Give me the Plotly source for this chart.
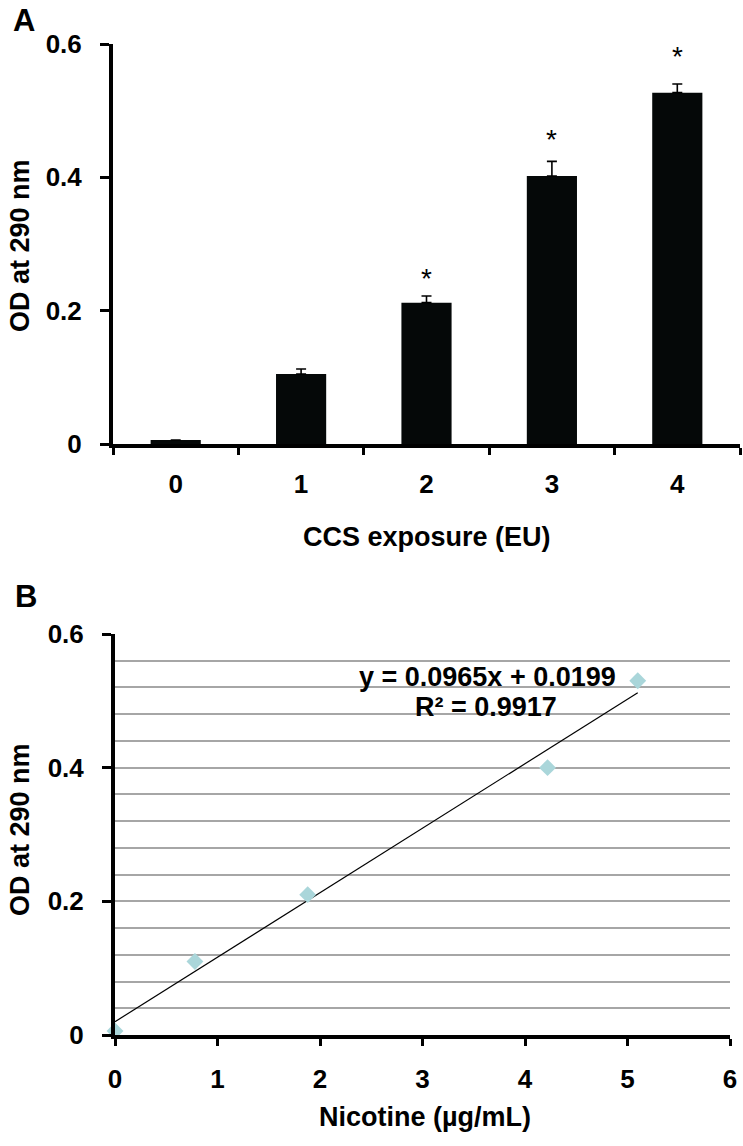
import plotly.graph_objects as go

W, H = 743, 1146

# Panel A data
exposure = ["0", "1", "2", "3", "4"]
od_mean = [0.006, 0.105, 0.212, 0.402, 0.527]
od_err = [0.0, 0.0075, 0.010, 0.022, 0.013]
star_y = [None, None, 0.2565, 0.4657, 0.5895]   # asterisk heights (significance marks)

# Panel B data
nicotine = [0.0, 0.78, 1.88, 4.22, 5.10]
od_b = [0.006, 0.11, 0.21, 0.40, 0.53]
slope, intercept = 0.0965, 0.0199
r2 = 0.9917
fit_x = [0.0, 5.10]

FONT = "Arial, Liberation Sans"


def px_x(p):
    return p / W


def px_y(p):
    return 1 - p / H


fig = go.Figure()

fig.add_trace(go.Bar(
    x=exposure, y=od_mean, width=0.4,
    marker=dict(color="#050808", line=dict(width=0)),
    error_y=dict(type="data", array=od_err, arrayminus=[0] * len(od_err),
                 symmetric=False, color="black", thickness=1.6, width=5),
    xaxis="x", yaxis="y", showlegend=False,
))

fig.add_trace(go.Scatter(
    x=fit_x, y=[slope * v + intercept for v in fit_x], mode="lines",
    line=dict(color="black", width=1.2), xaxis="x2", yaxis="y2", showlegend=False,
))
fig.add_trace(go.Scatter(
    x=nicotine, y=od_b, mode="markers",
    marker=dict(symbol="diamond", size=13, color="#AAD6DA", line=dict(width=0)),
    xaxis="x2", yaxis="y2", showlegend=False, cliponaxis=False,
))

tickfont = dict(family=FONT, size=26, color="black", weight="bold")

fig.update_layout(
    width=W, height=H, margin=dict(l=0, r=0, t=0, b=0),
    paper_bgcolor="white", plot_bgcolor="white",
    font=dict(family=FONT, color="black"),
    xaxis=dict(domain=[px_x(113), px_x(740)], anchor="y", type="category",
               automargin=False,
               showline=True, linecolor="black", linewidth=4,
               ticks="outside", tickson="boundaries", ticklen=7, tickwidth=3,
               tickcolor="black", tickfont=tickfont, showgrid=False,
               ticklabelstandoff=14),
    yaxis=dict(domain=[px_y(444), px_y(44)], anchor="x", range=[0, 0.6],
               automargin=False,
               tickvals=[0, 0.2, 0.4, 0.6], ticktext=["0", "0.2", "0.4", "0.6"],
               showline=True, linecolor="black", linewidth=4,
               ticks="outside", ticklen=9, tickwidth=3, tickcolor="black",
               tickfont=tickfont, showgrid=False, zeroline=False,
               ticklabelstandoff=13),
    xaxis2=dict(domain=[px_x(115), px_x(730)], anchor="y2", range=[0, 6],
                automargin=False,
                dtick=1, showline=True, linecolor="black", linewidth=4,
                ticks="outside", ticklen=7, tickwidth=3, tickcolor="black",
                tickfont=tickfont, showgrid=False, zeroline=False,
                ticklabelstandoff=11),
    yaxis2=dict(domain=[px_y(1035), px_y(634)], anchor="x2", range=[0, 0.6],
                automargin=False,
                tickvals=[0, 0.2, 0.4, 0.6], ticktext=["0", "0.2", "0.4", "0.6"],
                showline=True, linecolor="black", linewidth=4,
                ticks="outside", ticklen=9, tickwidth=3, tickcolor="black",
                tickfont=tickfont, showgrid=True, gridcolor="#A6A6A6", gridwidth=1.5,
                minor=dict(dtick=0.04, showgrid=True, gridcolor="#A6A6A6",
                           gridwidth=1.5, ticks=""),
                zeroline=False, ticklabelstandoff=13),
)

ann = []
# significance stars
for cat, sy in zip(exposure, star_y):
    if sy is not None:
        ann.append(dict(x=cat, y=sy, xref="x", yref="y", text="*",
                        showarrow=False, xanchor="center", yanchor="middle", yshift=-6,
                        font=dict(family=FONT, size=28, color="black")))

title_font = dict(family=FONT, size=27, color="black", weight="bold")
label_font = dict(family=FONT, size=31, color="black", weight="bold")


def txt(x, y, text, font, angle=0):
    return dict(x=px_x(x), y=px_y(y), xref="paper", yref="paper", text=text,
                textangle=angle, showarrow=False, xanchor="center",
                yanchor="middle", font=font)


ann += [
    txt(24, 20, "A", label_font),
    txt(26, 596, "B", label_font),
    txt(20, 246, "OD at 290 nm", title_font, -90),
    txt(20, 830, "OD at 290 nm", title_font, -90),
    txt(427, 537, "CCS exposure (EU)", title_font),
    txt(425, 1117, "Nicotine (µg/mL)", title_font),
    txt(487, 677, f"y = {slope}x + {intercept}", title_font),
    txt(486, 707, f"R² = {r2}", title_font),
]
fig.update_layout(annotations=ann)

# remove the browser's default 8px body margin so the figure fills the window
fig.write_html("out.html", config={"displayModeBar": False},
               post_script="document.body.style.margin='0px';")
